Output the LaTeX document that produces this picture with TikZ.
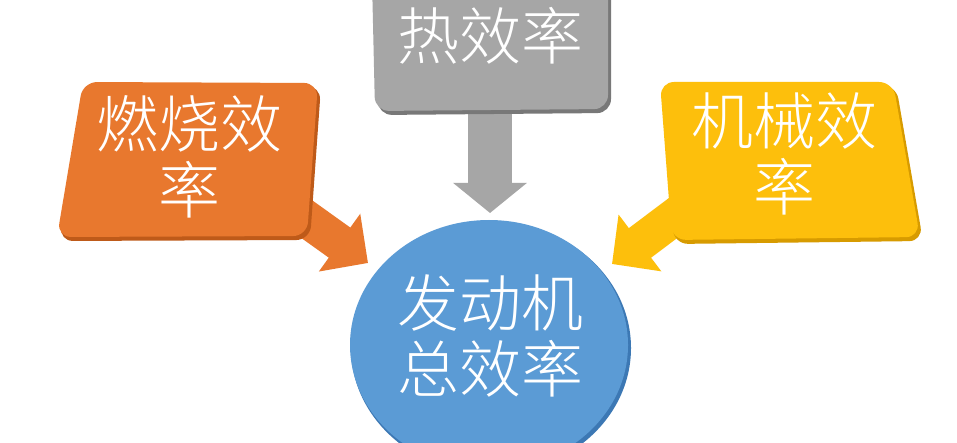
\documentclass[tikz,border=0pt]{standalone}
\usepackage{fontspec}
\newfontfamily\cjk{Noto Sans CJK SC Light}
\usetikzlibrary{arrows.meta}
\definecolor{cOrange}{RGB}{232,120,46}
\definecolor{cOrangeD}{RGB}{190,90,25}
\definecolor{cGray}{RGB}{166,166,166}
\definecolor{cGrayD}{RGB}{120,120,120}
\definecolor{cYellow}{RGB}{253,191,12}
\definecolor{cYellowD}{RGB}{215,155,0}
\definecolor{cBlue}{RGB}{91,155,213}
\definecolor{cBlueD}{RGB}{60,120,180}
\begin{document}
\begin{tikzpicture}[x=1pt,y=-1pt,
  lbl/.style={text=white, font=\cjk\fontsize{62}{66}\selectfont, align=center, inner sep=0pt},
  boxshape/.style={rounded corners=14pt},
  barrow/.style={line width=#1, line cap=butt},
]
\useasboundingbox (0,0) rectangle (957,443);
\clip (0,0) rectangle (957,443);
\fill[white] (0,0) rectangle (957,443);
% connector end points
\coordinate (oStart) at (280,200);
\coordinate (oTip) at (368,263);
\coordinate (gStart) at (490,100);
\coordinate (gTip) at (490,213);
\coordinate (yStart) at (697,200);
\coordinate (yTip) at (612,264);
% block arrows
\draw[barrow=37pt, cOrange, -{Triangle[length=35pt,width=69pt]}] (oStart) -- (oTip);
\draw[barrow=44pt, cGray, -{Triangle[length=30pt,width=72pt]}] (gStart) -- (gTip);
\draw[barrow=37pt, cYellow, -{Triangle[length=35pt,width=69pt]}] (yStart) -- (yTip);
% orange box
\fill[cOrangeD, boxshape] (85,85) -- (321,86) -- (310,240) -- (59,241) -- cycle;
\fill[cOrange, boxshape] (83,82) -- (318,83) -- (307,236) -- (57,237) -- cycle;
% gray box
\fill[cGrayD, boxshape] (375,-20) -- (611,-20) -- (611,113) -- (378,115) -- cycle;
\fill[cGray, boxshape] (372,-20) -- (608,-20) -- (608,109) -- (375,111) -- cycle;
% yellow box
\fill[cYellowD, boxshape] (662,85) -- (896,85) -- (923,241) -- (674,244) -- cycle;
\fill[cYellow, boxshape] (660,82) -- (893,82) -- (920,237) -- (672,240) -- cycle;
% blue circle
\fill[cBlueD] (491,348) ellipse [x radius=140pt, y radius=126pt];
\fill[cBlue] (489,345) ellipse [x radius=139pt, y radius=125pt];
% labels
\node[lbl] (burn) at (189,157) {燃烧效\\率};
\node[lbl] (heat) at (490,36) {热效率};
\node[lbl] (mech) at (784,154) {机械效\\率};
\node[lbl] (total) at (490,336) {发动机\\总效率};
\end{tikzpicture}
\end{document}
